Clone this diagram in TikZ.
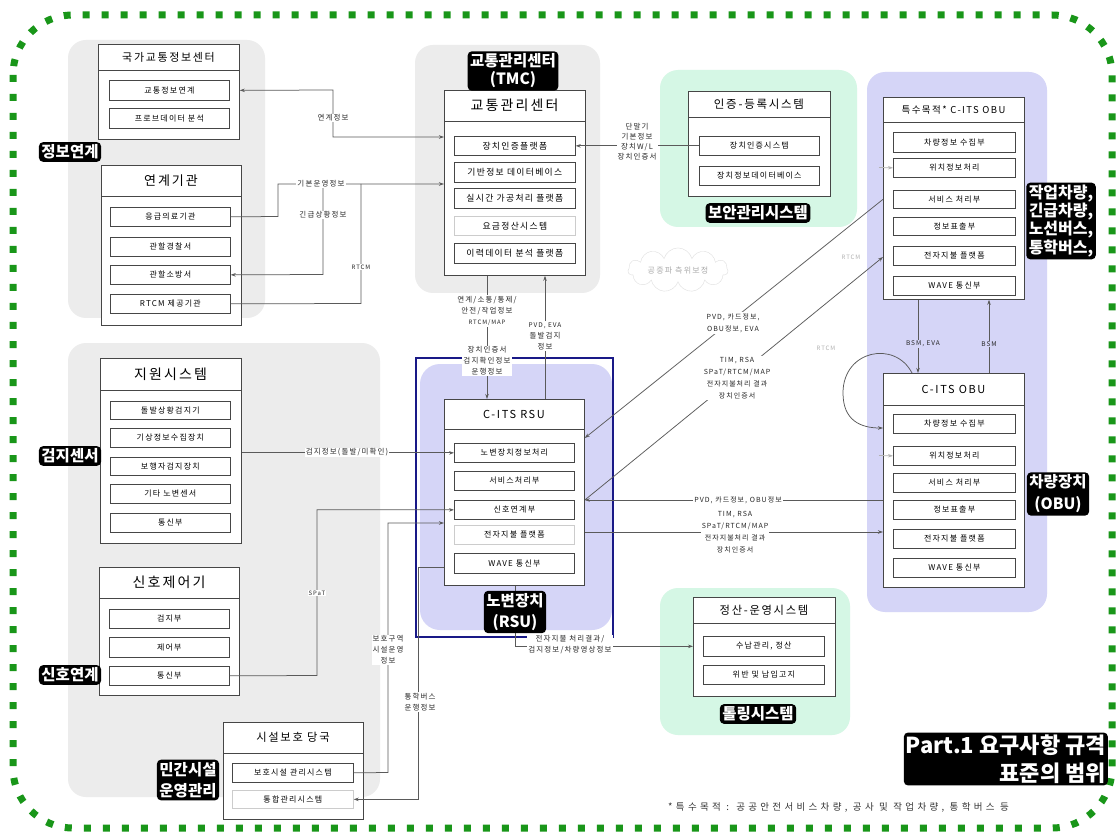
\documentclass[tikz,border=0pt]{standalone}
\usepackage{fontspec}
\setmainfont{Noto Sans CJK KR}
\newfontfamily\kr{Noto Sans CJK KR}[LetterSpace=15]
\newfontfamily\krw{Noto Sans CJK KR}[LetterSpace=35]
\newfontfamily\krb{Noto Sans CJK KR}
\usetikzlibrary{arrows.meta,shapes.symbols}
\definecolor{grp}{RGB}{236,236,236}
\definecolor{pur}{RGB}{213,213,247}
\definecolor{mint}{RGB}{213,247,229}
\definecolor{dgreen}{RGB}{25,150,25}
\definecolor{navy}{RGB}{25,25,135}
\definecolor{ln}{RGB}{90,90,90}
\definecolor{bd}{RGB}{70,70,70}
\tikzset{
 obox/.style={draw=bd, fill=white, line width=0.8pt, inner sep=0pt},
 ibox/.style={draw=bd, fill=white, line width=0.7pt, inner sep=0pt, font=\kr\fontsize{8}{10}\selectfont},
 hdr/.style={inner sep=0pt},
 conn/.style={draw=ln, line width=0.75pt},
 arr/.style={conn, -{Stealth[length=5pt,width=3.5pt]}},
 lbl/.style={fill=white, inner sep=1pt, align=center, font=\kr\fontsize{7.5}{11}\selectfont, text=black!85},
 tag/.style={fill=black, text=white, rounded corners=4pt, inner sep=2.5pt, align=center, font=\krb\bfseries\fontsize{15.5}{18}\selectfont},
}
\newcommand\ob[8]{%
 \node[obox, anchor=north west, minimum width={#4-#2}, minimum height={#5-#3}] (#1) at (#2,#3) {};
 \draw[bd, line width=0.8pt] (#2,#6) -- (#4,#6);
 \node[hdr, font=\kr\fontsize{#7}{#7}\selectfont] (#1-h) at ({(#2+#4)/2},{(#3+#6)/2}) {#8};}
\newcommand\ib[6]{\node[ibox, anchor=north west, minimum width={#4-#2}, minimum height={#5-#3}] (#1) at (#2,#3) {#6};}
\newcommand\ibl[6]{\node[ibox, draw=gray!40, anchor=north west, minimum width={#4-#2}, minimum height={#5-#3}] (#1) at (#2,#3) {#6};}
\begin{document}
\begin{tikzpicture}[x=1pt,y=-1pt]
\useasboundingbox (0,0) rectangle (1120,837);
\fill[white] (0,0) rectangle (1120,837);
% group backgrounds
\fill[grp, rounded corners=18pt] (68,40) rectangle (265,318);
\fill[grp, rounded corners=18pt] (68,343) rectangle (380,797);
\fill[grp, rounded corners=18pt] (415,45) rectangle (600,293);
\fill[mint, rounded corners=18pt] (660,70) rectangle (857,227);
\fill[pur, rounded corners=18pt] (867,72) rectangle (1047,612);
\fill[pur, rounded corners=20pt] (420,364) rectangle (612,630);
\fill[mint, rounded corners=18pt] (660,588) rectangle (850,735);
\draw[navy, line width=1.8pt] (416,358) rectangle (613,637);
% green scope border
\draw[dgreen, line width=7pt, dash pattern=on 7pt off 12pt, rounded corners=60pt] (13,15) rectangle (1112,828);
% boxes
\ob{nti}{98}{44}{239}{139}{70}{11}{국가교통정보센터}
\ib{nti1}{109}{80}{229}{100}{교통정보연계}
\ib{nti2}{109}{108}{229}{128}{프로브데이터 분석}
\ob{link}{101}{165}{241}{325}{196}{13}{연계기관}
\ib{link1}{110}{207}{230}{226}{응급의료기관}
\ib{link2}{110}{237}{230}{256}{관할경찰서}
\ib{link3}{110}{265}{230}{284}{관할소방서}
\ib{link4}{110}{294}{230}{313}{RTCM 제공기관}
\ob{tmc}{444}{90}{585}{275}{121}{14}{교통관리센터}
\tikzset{ibox/.append style={font=\kr\fontsize{8.8}{10}\selectfont}}
\ib{tmc1}{454}{136}{575}{155}{장치인증플랫폼}
\ib{tmc2}{454}{162}{575}{182}{기반정보 데이터베이스}
\ib{tmc3}{454}{188}{575}{208}{실시간 가공처리 플랫폼}
\ibl{tmc4}{454}{216}{575}{235}{요금정산시스템}
\ib{tmc5}{454}{243}{575}{263}{이력데이터 분석 플랫폼}
\tikzset{ibox/.append style={font=\kr\fontsize{8}{10}\selectfont}}
\ob{reg}{688}{91}{830}{196}{117}{11.5}{인증-등록시스템}
\ib{reg1}{699}{136}{819}{155}{장치인증시스템}
\ib{reg2}{699}{166}{819}{185}{장치정보데이터베이스}
\ob{sobu}{883}{97}{1024}{299}{122}{9.5}{특수목적* C-ITS OBU}
\ib{sobu1}{893}{132}{1015}{152}{차량정보 수집부}
\ib{sobu2}{893}{158}{1015}{177}{위치정보처리}
\ib{sobu3}{893}{190}{1015}{208}{서비스 처리부}
\ib{sobu4}{893}{217}{1015}{235}{정보표출부}
\ib{sobu5}{893}{246}{1015}{265}{전자지불 플랫폼}
\ib{sobu6}{893}{276}{1015}{295}{WAVE 통신부}
\ob{obu}{883}{373}{1024}{587}{405}{11}{C-ITS OBU}
\ib{obu1}{893}{414}{1015}{433}{차량정보 수집부}
\ib{obu2}{893}{446}{1015}{465}{위치정보처리}
\ib{obu3}{893}{473}{1015}{492}{서비스 처리부}
\ib{obu4}{893}{500}{1015}{519}{정보표출부}
\ib{obu5}{893}{529}{1015}{548}{전자지불 플랫폼}
\ib{obu6}{893}{558}{1015}{577}{WAVE 통신부}
\ob{rsu}{444}{399}{584}{585}{429}{11}{C-ITS RSU}
\ib{rsu1}{454}{443}{574}{462}{노변장치정보처리}
\ib{rsu2}{454}{471}{574}{490}{서비스처리부}
\ib{rsu3}{454}{500}{574}{519}{신호연계부}
\ibl{rsu4}{454}{525}{574}{544}{전자지불 플랫폼}
\ib{rsu5}{454}{553}{574}{573}{WAVE 통신부}
\ob{sup}{100}{358}{241}{543}{390}{14}{지원시스템}
\ib{sup1}{110}{401}{230}{419}{돌발상황검지기}
\ib{sup2}{110}{428}{230}{447}{기상정보수집장치}
\ib{sup3}{110}{457}{230}{475}{보행자검지장치}
\ib{sup4}{110}{484}{230}{503}{기타 노변센서}
\ib{sup5}{110}{513}{230}{532}{통신부}
\ob{sig}{99}{567}{239}{695}{598}{14}{신호제어기}
\ib{sig1}{109}{609}{229}{628}{검지부}
\ib{sig2}{109}{637}{229}{657}{제어부}
\ib{sig3}{109}{666}{229}{685}{통신부}
\ob{fac}{223}{722}{363}{819}{753}{11.3}{시설보호 당국}
\ib{fac1}{232}{763}{353}{782}{보호시설 관리시스템}
\ibl{fac2}{232}{790}{353}{808}{통합관리시스템}
\ob{toll}{693}{597}{835}{696}{623}{11.3}{정산-운영시스템}
\ib{toll1}{703}{636}{824}{656}{수납관리, 정산}
\ib{toll2}{703}{665}{824}{684}{위반 및 납입고지}
% cloud
\node[cloud, cloud puffs=11, aspect=3.2, draw=gray!25, fill=white, text=gray!65, font=\kr\fontsize{8}{9}\selectfont, inner sep=0pt, minimum width=100, minimum height=32] (cl) at (678,270) {공중파 측위보정};
% connectors
\coordinate (j1) at (323,184);
\coordinate (j2) at (361,184);
\draw[conn, {Stealth[length=5pt,width=3.5pt]}-{Stealth[length=5pt,width=3.5pt]}] (nti.east |- nti1) -- (333,90) -- (333,137) -- (tmc.west |- 0,137);
\draw[arr] (link1.east) -- (278,216.5) -- (278,184) -- (tmc.west |- j1);
\draw[arr] (j1) -- (323,274.5) -- (link3.east);
\draw[conn] (link4.east) -- (361,303.5) -- (j2);
\draw[arr] (tmc.south -| 487,0) -- (rsu.north -| 487,0);
\draw[arr] (rsu.north -| 545,0) -- (tmc.south -| 545,0);
\draw[arr] (reg1.west) -- (tmc1.east);
\draw[arr] (sup.east |- rsu1) -- (rsu1.west);
\draw[arr] (sig3.east) -- (317,675.5) |- (rsu3.west);
\draw[arr] (fac1.east) -- (388,772.5) |- (rsu.west |- 0,523);
\draw[arr] (rsu.west |- 0,567) -- (418,567) |- (fac2.east);
\draw[arr] (rsu.south -| 515,0) |- (toll.west |- toll1);
\draw[arr] (sobu.west |- sobu3) -- (rsu.east |- 0,438);
\draw[arr] (rsu.east |- 0,500) -- (sobu.west |- 0,257);
\draw[arr] (obu.west |- 0,500) -- (rsu.east |- 0,500);
\draw[arr] (rsu.east |- 0,532) -- (obu.west |- 0,532);
\draw[arr] (sobu.south -| 918,0) -- (obu.north -| 918,0);
\draw[arr] (obu.north -| 989,0) -- (sobu.south -| 989,0);
\draw[arr] (obu.north -| 912,0) .. controls (895,340) and (843,350) .. (843,393) .. controls (843,420) and (860,428) .. (obu.west |- 0,428);
\coordinate (c1) at (879,167.5);
\coordinate (c2) at (879,455.5);
\draw[arr, draw=gray!60] (c1) -- (sobu2.west);
\draw[arr, draw=gray!60] (c2) -- (obu2.west);
% connector labels
\node[lbl] (l1) at (333,118) {연계정보};
\node[lbl] (l2) at (321,184) {기본운영정보};
\node[lbl] (l3) at (323,215) {긴급상황정보};
\node[lbl, font=\kr\fontsize{6}{8}\selectfont] (l4) at (361,267) {RTCM};
\node[lbl] (l5) at (487,311) {연계/소통/통제/\\안전/작업정보\\{\fontsize{6}{8}\selectfont RTCM/MAP}};
\node[lbl] (l6) at (487,361) {장치인증서\\검지확인정보\\운행정보};
\node[lbl] (l7) at (545,336) {{\fontsize{6.5}{8}\selectfont PVD, EVA}\\돌발검지\\정보};
\node[lbl, font=\kr\fontsize{7.5}{10}\selectfont] (l8) at (637,142) {단말기\\기본정보\\장치W/L\\장치인증서};
\node[lbl] (l9) at (347,452.5) {검지정보(돌발/미확인)};
\node[lbl, font=\kr\fontsize{6}{8}\selectfont] (l10) at (317,593) {SPaT};
\node[lbl] (l11) at (388,650) {보호구역\\시설운영\\정보};
\node[lbl] (l12) at (420,702) {통학버스\\운행정보};
\node[lbl] (l13) at (570,645) {전자지불 처리결과/\\검지정보/차량영상정보};
\node[lbl, font=\kr\fontsize{7}{12}\selectfont] (l14) at (733,323) {PVD, 카드정보,\\OBU정보, EVA};
\node[lbl, font=\kr\fontsize{7}{12}\selectfont] (l15) at (737,378) {TIM, RSA\\SPaT/RTCM/MAP\\전자지불처리 결과\\장치인증서};
\node[lbl, font=\kr\fontsize{7}{12}\selectfont] (l16) at (738,500) {PVD, 카드정보, OBU정보};
\node[lbl, font=\kr\fontsize{7}{12}\selectfont] (l17) at (735,532) {TIM, RSA\\SPaT/RTCM/MAP\\전자지불처리 결과\\장치인증서};
\node[lbl, fill=pur, font=\kr\fontsize{6.5}{8}\selectfont] (l18) at (923,344) {BSM, EVA};
\node[lbl, fill=pur, font=\kr\fontsize{6.5}{8}\selectfont] (l19) at (989,344) {BSM};
\node[text=gray!60, font=\kr\fontsize{6}{8}\selectfont] (rt1) at (851,257) {RTCM};
\node[text=gray!60, font=\kr\fontsize{6}{8}\selectfont] (rt2) at (826,348) {RTCM};
% tags
\node[tag] (t1) at (70,152) {정보연계};
\node[tag] (t2) at (513,71) {교통관리센터\\(TMC)};
\node[tag] (t3) at (758,213) {보안관리시스템};
\node[tag, align=left, font=\krb\bfseries\fontsize{16}{16.5}\selectfont] (t4) at (1061,221) {작업차량,\\긴급차량,\\노선버스,\\통학버스,};
\node[tag] (t5) at (70,456) {검지센서};
\node[tag] (t6) at (70,675) {신호연계};
\node[tag, font=\krb\bfseries\fontsize{15.5}{21}\selectfont] (t7) at (188,780) {민간시설\\운영관리};
\node[tag, font=\krb\bfseries\fontsize{15.5}{21}\selectfont] (t8) at (515,612) {노변장치\\(RSU)};
\node[tag, font=\krb\bfseries\fontsize{15.5}{22}\selectfont] (t9) at (1058,494) {차량장치\\(OBU)};
\node[tag] (t10) at (758,714) {톨링시스템};
\node[tag, align=right, anchor=east, inner sep=2pt, font=\krb\bfseries\fontsize{22}{28}\selectfont] (t11) at (1108,759) {Part.1 요구사항 규격\\표준의 범위};
% footnote
\node[anchor=west, font=\krw\fontsize{9.5}{10}\selectfont, text=black!80, inner sep=0pt] (fn) at (668,807) {*특수목적 : 공공안전서비스차량, 공사 및 작업차량, 통학버스 등};
\end{tikzpicture}
\end{document}
